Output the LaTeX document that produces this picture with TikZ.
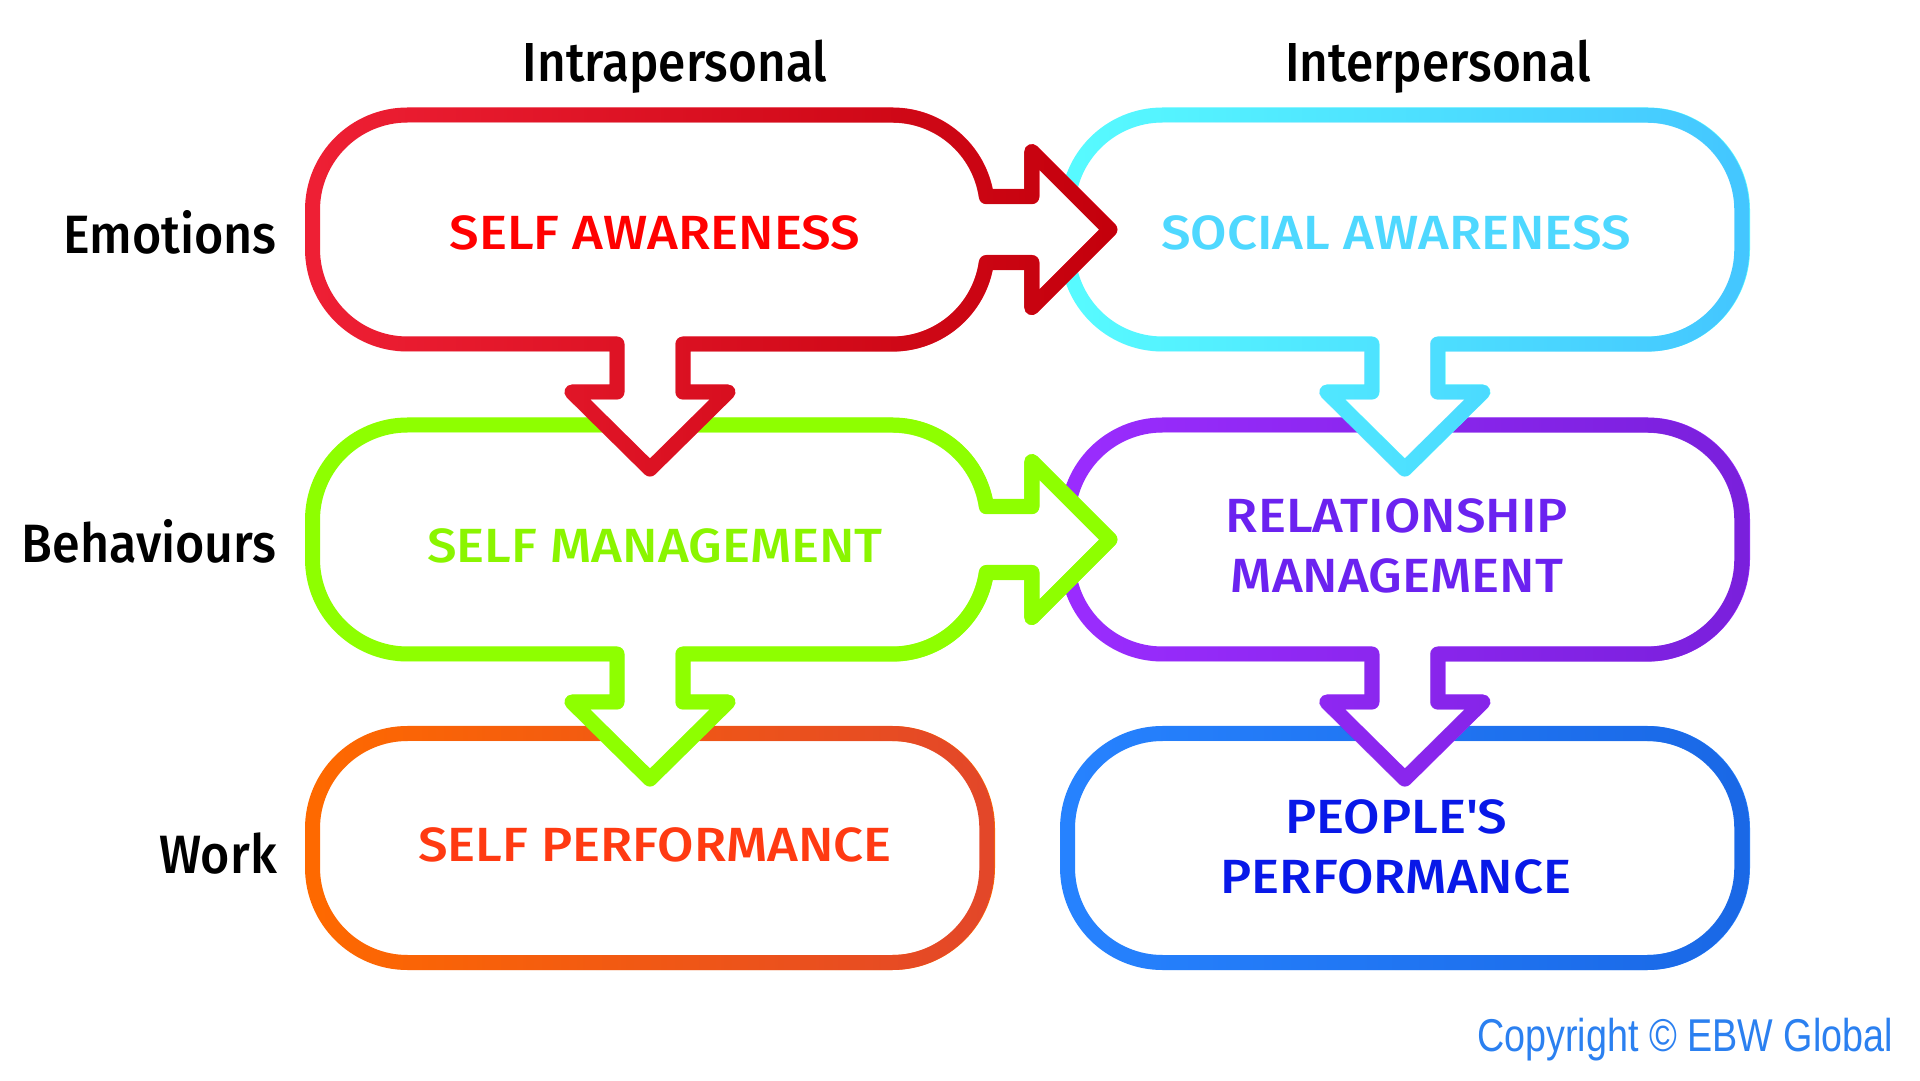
\documentclass[tikz,border=0pt]{standalone}
\usepackage{fontspec}
\setmainfont{Fira Sans}[BoldFont={Fira Sans Medium}]
\newfontfamily\headfont{Fira Sans Medium}[FakeStretch=0.9]
\newfontfamily\rowfont{Fira Sans Medium}[FakeStretch=0.93]
\newfontfamily\boxfont{Fira Sans Medium}[FakeStretch=1.1]
\newfontfamily\copyfont{Liberation Sans}[FakeStretch=0.82]
\usetikzlibrary{fadings}

\definecolor{redA}{HTML}{EF2035}
\definecolor{redB}{HTML}{C4000C}
\definecolor{cyanA}{HTML}{58FCFF}
\definecolor{cyanB}{HTML}{44C6FF}
\definecolor{greenA}{HTML}{8EFF00}
\definecolor{purpleA}{HTML}{9B2DFF}
\definecolor{purpleB}{HTML}{7A20DC}
\definecolor{orangeA}{HTML}{FF6A00}
\definecolor{orangeB}{HTML}{E3472A}
\definecolor{blueA}{HTML}{2783FF}
\definecolor{blueB}{HTML}{1A68E6}
\definecolor{redtext}{HTML}{FF0000}
\definecolor{cyantext}{HTML}{4ED8FF}
\definecolor{greentext}{HTML}{8AF500}
\definecolor{purpletext}{HTML}{6B22F0}
\definecolor{orangetext}{HTML}{FF3A12}
\definecolor{bluetext}{HTML}{0818E8}
\definecolor{copytext}{HTML}{2B80F0}

\tikzstyle{boxline}=[line width=15pt,line join=round]
\tikzstyle{heading}=[font=\headfont\fontsize{55}{60}\selectfont,anchor=base]
\tikzstyle{rowlabel}=[font=\rowfont\fontsize{54}{60}\selectfont,anchor=base east,inner sep=0pt]
\tikzstyle{boxtext}=[font=\boxfont\fontsize{48}{60}\selectfont,align=center]

% right and bottom sides of a box, relative to its centre
\newcommand{\sideplain}{arc[start angle=90,end angle=0,radius=95] -- (337.5,-19.5) arc[start angle=0,end angle=-90,radius=95]}
\newcommand{\sidearrow}{arc[start angle=90,end angle=8.17,radius=95] -- (382,33) -- (382,78) -- (460,0) -- (382,-78) -- (382,-33) -- (336.5,-33) arc[start angle=-8.17,end angle=-90,radius=95]}
\newcommand{\bottomplain}{}
\newcommand{\bottomarrow}{-- (33,-114.5) -- (33,-162.5) -- (78,-162.5) -- (0,-239.5) -- (-78,-162.5) -- (-33,-162.5) -- (-33,-114.5)}

\begin{document}
\begin{tikzpicture}[x=1pt,y=1pt]
    \useasboundingbox (0,0) rectangle (1920,1080);

    % boxes from the bottom up, so every arrow lies over the box it points to
    \foreach \cx/\cy/\ca/\cb/\ra/\da in {1405/232/blueA/blueB/0/0, 650/232/orangeA/orangeB/0/0,
        1405/540.5/purpleA/purpleB/0/1, 650/540.5/greenA/greenA/1/1,
        1405/850.5/cyanA/cyanB/0/1, 650/850.5/redA/redB/1/1}
    {
        \ifnum\ra=1\relax \let\rpart\sidearrow \else \let\rpart\sideplain \fi
        \ifnum\da=1\relax \let\dpart\bottomarrow \else \let\dpart\bottomplain \fi
        \begin{scope}[shift={(\cx,\cy)}]
            \draw[boxline,draw=\ca,fill=white] (-242.5,114.5) -- (242.5,114.5) \rpart \dpart -- (-242.5,-114.5)
                arc[start angle=270,end angle=180,radius=95] -- (-337.5,19.5)
                arc[start angle=180,end angle=90,radius=95] -- cycle;
            \draw[boxline,draw=\cb,path fading=west] (-242.5,114.5) -- (242.5,114.5) \rpart \dpart -- (-242.5,-114.5)
                arc[start angle=270,end angle=180,radius=95] -- (-337.5,19.5)
                arc[start angle=180,end angle=90,radius=95] -- cycle;
        \end{scope}
    }

    % box texts
    \foreach \pos/\name/\col/\txt in {{(655,847)/selfaware/redtext/SELF AWARENESS},
        {(1396,847)/socialaware/cyantext/SOCIAL AWARENESS},
        {(655,534)/selfmanage/greentext/SELF MANAGEMENT},
        {(1397,534.5)/relmanage/purpletext/RELATIONSHIP\\MANAGEMENT},
        {(655,235)/selfperf/orangetext/SELF PERFORMANCE},
        {(1396,233.5)/peopleperf/bluetext/PEOPLE\textquotesingle S\\PERFORMANCE}}
        \node[boxtext,text=\col] (\name) at \pos {\txt};

    % column and row headings
    \foreach \pos/\name/\txt in {{(675,998)/intra/Intrapersonal}, {(1438,998)/inter/Interpersonal}}
        \node[heading] (\name) at \pos {\txt};
    \foreach \pos/\name/\txt in {{(277,826)/emotions/Emotions}, {(277,517)/behaviours/Behaviours}, {(277,207)/work/Work}}
        \node[rowlabel] (\name) at \pos {\txt};

    \node[anchor=base east,inner sep=0pt,text=copytext,font=\copyfont\fontsize{46}{50}\selectfont] (copy) at (1893,29) {Copyright © EBW Global};
\end{tikzpicture}
\end{document}
